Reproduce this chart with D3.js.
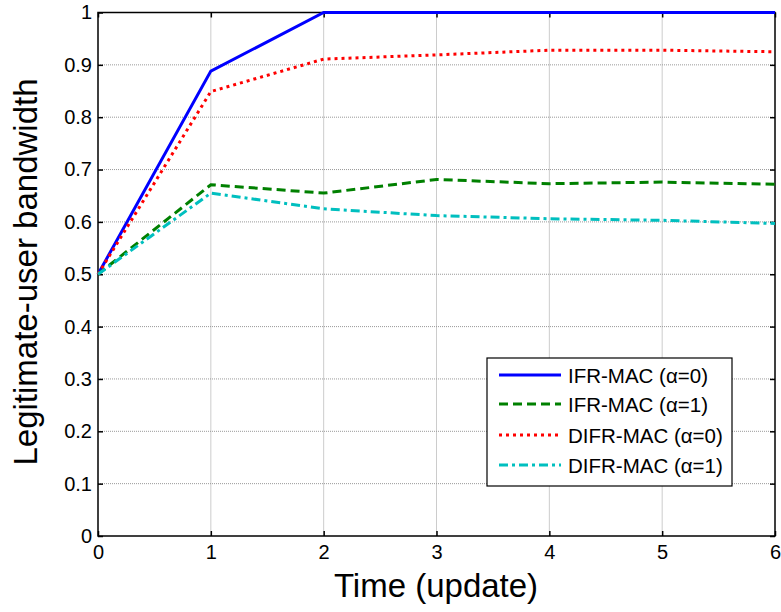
<!DOCTYPE html>
<html><head><meta charset="utf-8">
<script src="https://cdn.jsdelivr.net/npm/d3@7"></script>
<style>body{margin:0;background:#fff}svg{display:block}text{font-family:Arial,"Liberation Sans",sans-serif}</style>
</head><body><svg id="c" width="781" height="612"></svg>
<script>
const times = [0,1,2,3,4,5,6];
const xTicks = [0,1,2,3,4,5,6];
const yTicks = [0,0.1,0.2,0.3,0.4,0.5,0.6,0.7,0.8,0.9,1];
const seriesNames = ["IFR-MAC (\u03b1=0)","IFR-MAC (\u03b1=1)","DIFR-MAC (\u03b1=0)","DIFR-MAC (\u03b1=1)"];
const ifr0  = [0.5,0.888,1,1,1,1,1];
const ifr1  = [0.5,0.671,0.655,0.681,0.673,0.676,0.672];
const difr0 = [0.5,0.849,0.911,0.919,0.928,0.928,0.925];
const difr1 = [0.5,0.655,0.625,0.612,0.606,0.603,0.597];
const colors = ["#0000ff","#008000","#ff0000","#00bfbf"];
const dashes = [null,"9,5","3,4","9,4,3,4"];

const svg = d3.select("#c");
const L=98,R=775,T=12.5,B=536;
const x = d3.scaleLinear().domain([0,6]).range([L,R]);
const y = d3.scaleLinear().domain([0,1]).range([B,T]);

// grid
const g = svg.append("g");
g.selectAll(".gx").data(xTicks.slice(1,-1)).enter().append("line")
  .attr("x1",d=>x(d)).attr("x2",d=>x(d)).attr("y1",T).attr("y2",B)
  .attr("stroke","#999").attr("stroke-width",1).attr("stroke-dasharray","1,1");
g.selectAll(".gy").data(yTicks.slice(1,-1)).enter().append("line")
  .attr("y1",d=>y(d)).attr("y2",d=>y(d)).attr("x1",L).attr("x2",R)
  .attr("stroke","#999").attr("stroke-width",1).attr("stroke-dasharray","1,1");

// axes
const ax = svg.append("g").attr("transform",`translate(0,${B})`)
  .call(d3.axisBottom(x).tickValues(xTicks).tickSize(-5).tickPadding(9).tickFormat(d3.format("d")));
const ay = svg.append("g").attr("transform",`translate(${L},0)`)
  .call(d3.axisLeft(y).tickValues(yTicks).tickSize(-5).tickPadding(6).tickFormat(d=>d===0?"0":d===1?"1":d3.format(".1f")(d)));
const axT = svg.append("g").attr("transform",`translate(0,${T})`)
  .call(d3.axisTop(x).tickValues(xTicks).tickSize(-5).tickFormat(""));
const ayR = svg.append("g").attr("transform",`translate(${R},0)`)
  .call(d3.axisRight(y).tickValues(yTicks).tickSize(-5).tickFormat(""));
[ax,ay,axT,ayR].forEach(a=>{a.attr("font-size",null).attr("font-family",null);
  a.select(".domain").remove();a.selectAll("line").attr("stroke","#000").attr("stroke-width",1.5);
  a.selectAll("text").attr("fill","#000").style("font-size","20px").style("font-family","Arial,'Liberation Sans',sans-serif");});
svg.append("rect").attr("x",L).attr("y",T).attr("width",R-L).attr("height",B-T)
  .attr("fill","none").attr("stroke","#000").attr("stroke-width",1.5);

// lines
const data = [ifr0,ifr1,difr0,difr1];
const line = d3.line().x((d,i)=>x(times[i])).y(d=>y(d));
data.forEach((s,i)=>{
  svg.append("path").datum(s).attr("d",line).attr("fill","none")
    .attr("stroke",colors[i]).attr("stroke-width",3)
    .attr("stroke-dasharray",dashes[i]);
});

// labels
svg.append("text").attr("x",436).attr("y",597).attr("text-anchor","middle")
  .attr("font-size",33).text("Time (update)");
svg.append("text").attr("transform",`translate(37,272) rotate(-90)`).attr("text-anchor","middle")
  .attr("font-size",33).text("Legitimate-user bandwidth");

// legend
const lg = svg.append("g");
lg.append("rect").attr("x",487).attr("y",358).attr("width",245).attr("height",128)
  .attr("fill","#fff").attr("stroke","#000").attr("stroke-width",1.2);
const rowsY = [376,405,436,466];
seriesNames.forEach((n,i)=>{
  lg.append("line").attr("x1",499).attr("x2",561).attr("y1",rowsY[i]-1).attr("y2",rowsY[i]-1)
    .attr("stroke",colors[i]).attr("stroke-width",3).attr("stroke-dasharray",dashes[i]);
  lg.append("text").attr("x",568).attr("y",rowsY[i]+7).attr("font-size",20.5).text(n);
});
</script></body></html>
